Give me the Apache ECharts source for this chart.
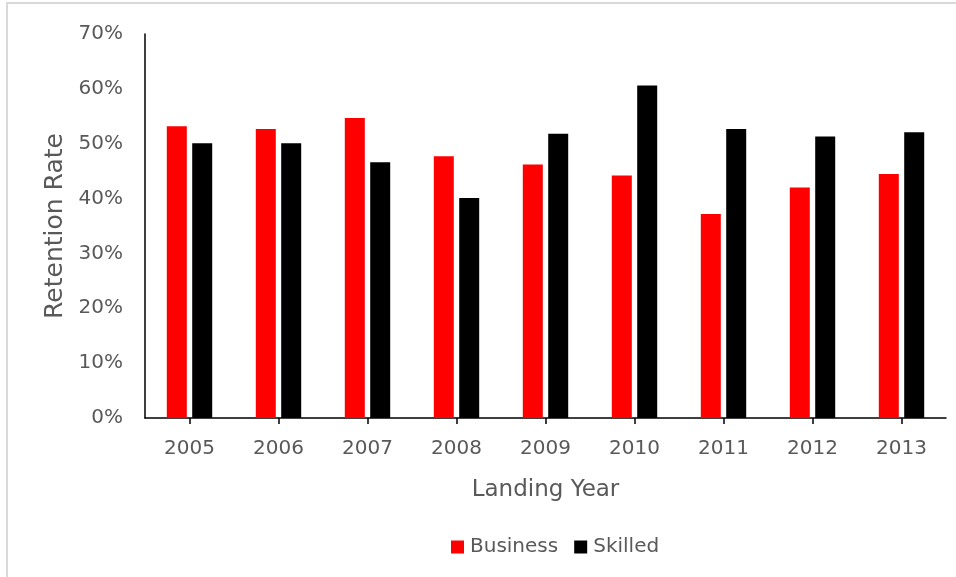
<!DOCTYPE html>
<html>
<head>
<meta charset="utf-8">
<style>
  html, body { margin: 0; padding: 0; background: #fff; }
  #chart { width: 956px; height: 577px; }
</style>
<script src="https://cdn.jsdelivr.net/npm/echarts@6/dist/echarts.min.js"></script>
</head>
<body>
<div id="chart"></div>
<script>
// Retention rate by landing year, business vs skilled immigrants
const years = ['2005', '2006', '2007', '2008', '2009', '2010', '2011', '2012', '2013'];
const business = [53.2, 52.7, 54.7, 47.7, 46.2, 44.2, 37.2, 42.0, 44.5];
const skilled = [50.1, 50.1, 46.6, 40.1, 51.8, 60.6, 52.7, 51.3, 52.1];
const yTicks = [0, 10, 20, 30, 40, 50, 60, 70];

const FONT = 'DejaVu Sans';
const GREY = '#595959';

const chart = echarts.init(document.getElementById('chart'), null, { renderer: 'canvas' });

chart.setOption({
  backgroundColor: '#ffffff',
  animation: false,
  textStyle: { fontFamily: FONT, color: GREY },
  graphic: [
    {
      type: 'polyline',
      shape: { points: [[7, 577], [7, 3], [956, 3]] },
      style: { stroke: '#d9d9d9', lineWidth: 2, fill: null }
    }
  ],
  grid: { left: 145, right: 10, top: 34, bottom: 159, containLabel: false },
  legend: {
    bottom: 15,
    left: 446,
    itemWidth: 13,
    itemHeight: 13,
    itemGap: 16,
    icon: 'rect',
    textStyle: { fontFamily: FONT, fontSize: 20, color: GREY, padding: [0, 0, 0, 1] },
    data: ['Business', 'Skilled']
  },
  xAxis: {
    type: 'category',
    data: years,
    name: 'Landing Year',
    nameLocation: 'middle',
    nameGap: 61,
    nameTextStyle: { fontFamily: FONT, fontSize: 23, color: GREY },
    axisLine: { lineStyle: { color: '#000', width: 1.5 } },
    axisTick: { show: true, alignWithLabel: true, length: 6, lineStyle: { color: '#000', width: 1.5 } },
    axisLabel: { fontFamily: FONT, fontSize: 20, color: GREY, margin: 21 }
  },
  yAxis: {
    type: 'value',
    min: yTicks[0],
    max: yTicks[yTicks.length - 1],
    interval: 10,
    name: 'Retention Rate',
    nameLocation: 'middle',
    nameGap: 74,
    nameTextStyle: { fontFamily: FONT, fontSize: 25, color: GREY },
    axisLine: { show: true, lineStyle: { color: '#000', width: 1.5 } },
    axisTick: { show: false },
    splitLine: { show: false },
    axisLabel: { fontFamily: FONT, fontSize: 20, color: GREY, margin: 22, formatter: v => v + '%' }
  },
  series: [
    {
      name: 'Business',
      type: 'bar',
      data: business,
      barWidth: 20,
      barGap: '27%',
      itemStyle: { color: '#ff0000' }
    },
    {
      name: 'Skilled',
      type: 'bar',
      data: skilled,
      barWidth: 20,
      itemStyle: { color: '#000000' }
    }
  ]
});
</script>
</body>
</html>
